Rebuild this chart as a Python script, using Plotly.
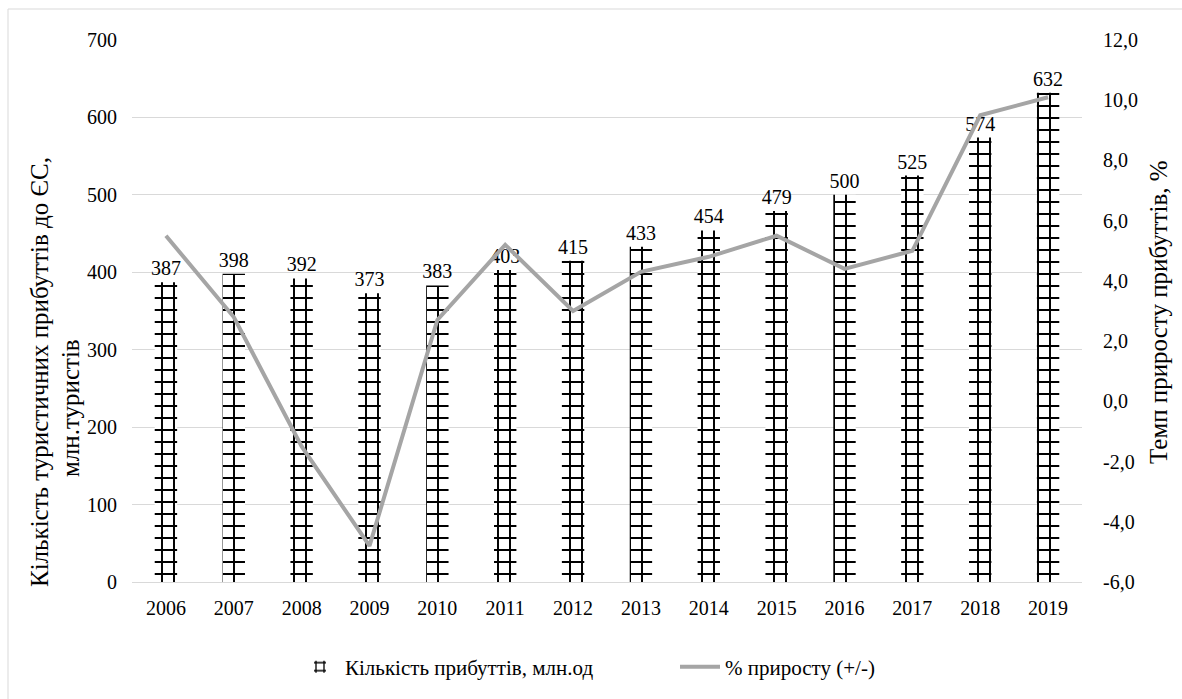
import plotly.graph_objects as go

years = ["2006", "2007", "2008", "2009", "2010", "2011", "2012",
         "2013", "2014", "2015", "2016", "2017", "2018", "2019"]
arrivals = [387, 398, 392, 373, 383, 403, 415, 433, 454, 479, 500, 525, 574, 632]
growth = [5.5, 2.8, -1.5, -4.8, 2.7, 5.2, 3.0, 4.3, 4.8, 5.5, 4.4, 5.0, 9.5, 10.1]

left_ticks = [0, 100, 200, 300, 400, 500, 600, 700]
right_tick_vals = [-6, -4, -2, 0, 2, 4, 6, 8, 10, 12]
right_tick_text = ["-6,0", "-4,0", "-2,0", "0,0", "2,0", "4,0", "6,0", "8,0", "10,0", "12,0"]

bar_name = "Кількість прибуттів, млн.од"
line_name = "% приросту (+/-)"
left_title_1 = "Кількість туристичних прибуттів до ЄС,"
left_title_2 = "млн.туристів"
right_title = "Темп приросту прибуттів, %"

FONT = "'Times New Roman', 'Liberation Serif', serif"
FS = 20
TFS = 25

fig = go.Figure()
fig.add_trace(go.Bar(
    x=years, y=arrivals, name=bar_name,
    marker=dict(color="white", line=dict(width=0),
                pattern=dict(shape="+", fgcolor="#000000", bgcolor="white",
                             size=12, solidity=0.3, fgopacity=1)),
    text=[str(v) for v in arrivals], textposition="outside",
    constraintext="none",
    textfont=dict(family=FONT, size=FS, color="black"),
    cliponaxis=False,
))
fig.add_trace(go.Scatter(
    x=years, y=growth, name=line_name, yaxis="y2", mode="lines",
    line=dict(color="#a5a5a5", width=4),
))

x0, x1, ytop, ybot = 132, 1082, 40, 582
W, H = 1182, 699
pw, ph = x1 - x0, ybot - ytop

def px(x):
    return (x - x0) / pw

def py(y):
    return (ybot - y) / ph

fig.update_layout(
    width=W, height=H,
    margin=dict(l=x0, r=W - x1, t=ytop, b=H - ybot),
    plot_bgcolor="white", paper_bgcolor="white",
    font=dict(family=FONT, size=FS, color="black"),
    bargap=0.67,
    showlegend=True,
    legend=dict(orientation="h", x=px(295), xanchor="left", y=py(667), yanchor="middle",
                font=dict(family=FONT, size=21), itemwidth=40, tracegroupgap=0,
                entrywidth=325, entrywidthmode="pixels"),
    xaxis=dict(showgrid=False, showline=True, linecolor="#d9d9d9", linewidth=1,
               ticks="", ticklabelstandoff=8, tickfont=dict(family=FONT, size=FS)),
    yaxis=dict(range=[0, 700], tickvals=left_ticks, showgrid=True, gridcolor="#d9d9d9",
               gridwidth=1, zeroline=False, ticks="", ticklabelstandoff=14,
               tickfont=dict(family=FONT, size=FS)),
    yaxis2=dict(range=[-6, 12], overlaying="y", side="right", tickvals=right_tick_vals,
                ticktext=right_tick_text, showgrid=False, zeroline=False, ticks="",
                ticklabelstandoff=20, tickfont=dict(family=FONT, size=FS)),
    annotations=[
        dict(text=left_title_1, xref="paper", yref="paper", x=px(40), y=py(372),
             textangle=-90, showarrow=False, xanchor="center", yanchor="middle",
             font=dict(family=FONT, size=TFS)),
        dict(text=left_title_2, xref="paper", yref="paper", x=px(70), y=py(408),
             textangle=-90, showarrow=False, xanchor="center", yanchor="middle",
             font=dict(family=FONT, size=TFS)),
        dict(text=right_title, xref="paper", yref="paper", x=px(1158), y=py(312),
             textangle=-90, showarrow=False, xanchor="center", yanchor="middle",
             font=dict(family=FONT, size=TFS)),
    ],
    shapes=[dict(type="rect", xref="paper", yref="paper",
                 x0=px(8), x1=px(1200), y0=py(720), y1=py(9),
                 line=dict(color="#d9d9d9", width=1), fillcolor="rgba(0,0,0,0)",
                 layer="below")],
)

fig.write_html("out.html")
